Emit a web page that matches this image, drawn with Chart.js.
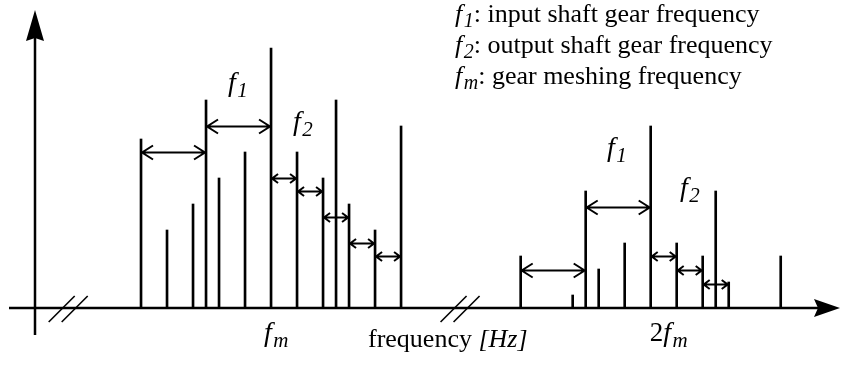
<!DOCTYPE html>
<html>
<head>
<meta charset="utf-8">
<script src="https://cdn.jsdelivr.net/npm/chart.js@4.4.0/dist/chart.umd.min.js"></script>
<style>
  html, body { margin: 0; padding: 0; background: #fff; }
  canvas { display: block; }
</style>
</head>
<body>
<canvas id="spectrum" width="841" height="369"></canvas>
<script>
'use strict';

// lines round the meshing frequency fm (schematic frequency units, fm = 100)
const group1Freq = [50, 60, 70, 75, 80, 90, 100, 110, 120, 125, 130, 140, 150];
const group1Amp  = [6.5, 3, 4, 8, 5, 6, 10, 6, 5, 8, 4, 3, 7];

// lines round 2fm (drawn after the axis break)
const group2Freq = [196, 216, 221, 226, 236, 246, 256, 266, 271, 276, 296];
const group2Amp  = [2, 0.5, 4.5, 1.5, 2.5, 7, 2.5, 2, 4.5, 1, 2];

// spacing arrows between lines: start, end and height
const arrowFrom  = [50, 75, 100, 110, 120, 130, 140, 196, 221, 246, 256, 266];
const arrowTo    = [75, 100, 110, 120, 130, 140, 150, 221, 246, 256, 266, 276];
const arrowLevel = [6, 7, 5, 4.5, 3.5, 2.5, 2, 1.45, 3.9, 2, 1.45, 0.92];

// x tick marks under the axis
const tickValues = [100, 246];
const tickLabels = ['', '2'];   // prefix before f_m

// where the axis is broken (//)
const axisBreaks = [22, 172.7];

const legendSubs  = ['1', '2', 'm'];
const legendTexts = [': input shaft gear frequency', ': output shaft gear frequency', ': gear meshing frequency'];

const serif = "'Liberation Serif', 'Times New Roman', serif";

function font(size, italic) {
    return (italic ? 'italic ' : '') + size + 'px ' + serif;
}

// draw text pieces one after the other, each with its own font
function drawRuns(ctx, runs, x, y) {
    for (let r of runs) {
        ctx.font = r.font;
        ctx.fillText(r.text, x, y + (r.dy || 0));
        x += ctx.measureText(r.text).width + (r.gap || 0);
    }
}

// italic f with a subscript
function fSym(sub, size) {
    return [
        {text: 'f', font: font(size, true), gap: 1.5},
        {text: sub, font: font(Math.round(size * 0.76), true), dy: Math.round(size * 0.2)}
    ];
}

function drawDimArrow(ctx, x1, x2, y) {
    let span = x2 - x1;
    let len = span > 40 ? 12 : 7;
    let half = span > 40 ? 7 : 4.5;
    ctx.beginPath();
    ctx.moveTo(x1 + 1, y);
    ctx.lineTo(x2 - 1, y);
    ctx.moveTo(x1 + len, y - half);
    ctx.lineTo(x1 + 1, y);
    ctx.lineTo(x1 + len, y + half);
    ctx.moveTo(x2 - len, y - half);
    ctx.lineTo(x2 - 1, y);
    ctx.lineTo(x2 - len, y + half);
    ctx.stroke();
}

const decorations = {
    id: 'decorations',
    afterDatasetsDraw(chart) {
        let ctx = chart.ctx;
        let xs = chart.scales.x;
        let ys = chart.scales.y;
        let area = chart.chartArea;
        let y0 = ys.getPixelForValue(0);
        let xAxisPos = area.left + 24;

        ctx.save();
        ctx.strokeStyle = '#000';
        ctx.fillStyle = '#000';
        ctx.lineJoin = 'miter';

        // horizontal axis with arrow
        ctx.lineWidth = 2.5;
        ctx.beginPath();
        ctx.moveTo(area.left - 2, y0);
        ctx.lineTo(area.right - 20, y0);
        ctx.stroke();
        ctx.beginPath();
        ctx.moveTo(area.right, y0);
        ctx.lineTo(area.right - 26, y0 - 9);
        ctx.lineTo(area.right - 22, y0);
        ctx.lineTo(area.right - 26, y0 + 9);
        ctx.closePath();
        ctx.fill();

        // vertical axis with arrow
        ctx.beginPath();
        ctx.moveTo(xAxisPos, area.bottom);
        ctx.lineTo(xAxisPos, area.top + 24);
        ctx.stroke();
        ctx.beginPath();
        ctx.moveTo(xAxisPos, area.top);
        ctx.lineTo(xAxisPos - 9, area.top + 31);
        ctx.lineTo(xAxisPos, area.top + 28);
        ctx.lineTo(xAxisPos + 9, area.top + 31);
        ctx.closePath();
        ctx.fill();

        // axis breaks
        ctx.lineWidth = 1.6;
        for (let b of axisBreaks) {
            let bx = xs.getPixelForValue(b);
            for (let off of [-6.5, 6.5]) {
                ctx.beginPath();
                ctx.moveTo(bx + off - 13, y0 + 14);
                ctx.lineTo(bx + off + 13, y0 - 12);
                ctx.stroke();
            }
        }

        // spacing arrows
        ctx.lineWidth = 2;
        for (let i = 0; i < arrowFrom.length; i++) {
            drawDimArrow(ctx,
                xs.getPixelForValue(arrowFrom[i]),
                xs.getPixelForValue(arrowTo[i]),
                Math.round(ys.getPixelForValue(arrowLevel[i])) + 0.5);
        }

        // f1 / f2 labels over the arrows
        ctx.textBaseline = 'alphabetic';
        drawRuns(ctx, fSym('1', 28), 228, 91);
        drawRuns(ctx, fSym('2', 28), 293, 130);
        drawRuns(ctx, fSym('1', 28), 607, 156);
        drawRuns(ctx, fSym('2', 28), 680, 196);

        // tick labels under the axis
        for (let i = 0; i < tickValues.length; i++) {
            let tx = xs.getPixelForValue(tickValues[i]) - (tickLabels[i] ? 1 : 7);
            let runs = [];
            if (tickLabels[i]) runs.push({text: tickLabels[i], font: font(27, false)});
            runs = runs.concat(fSym('m', 28));
            drawRuns(ctx, runs, tx, 341);
        }

        // axis title
        drawRuns(ctx, [
            {text: 'frequency ', font: font(26, false)},
            {text: '[Hz]', font: font(26, true)}
        ], 368, 347);

        // legend
        for (let i = 0; i < legendTexts.length; i++) {
            let ly = 22 + i * 31;
            drawRuns(ctx, fSym(legendSubs[i], 26).concat([{text: legendTexts[i], font: font(26, false)}]), 455, ly);
        }

        ctx.restore();
    }
};

let ctx = document.getElementById('spectrum').getContext('2d');
let spectrumChart = new Chart(ctx, {
    type: 'bar',
    data: {
        datasets: [{
            label: 'fm sidebands',
            data: group1Freq.map((f, i) => ({x: f, y: group1Amp[i]})),
            backgroundColor: '#000',
            barThickness: 2
        }, {
            label: '2fm sidebands',
            data: group2Freq.map((f, i) => ({x: f, y: group2Amp[i]})),
            backgroundColor: '#000',
            barThickness: 2
        }]
    },
    options: {
        responsive: false,
        animation: false,
        layout: {padding: {left: 11, right: 1, top: 10, bottom: 34}},
        plugins: {
            legend: {display: false},
            tooltip: {enabled: false}
        },
        datasets: {bar: {grouped: false}},
        scales: {
            x: {type: 'linear', display: false, offset: false, min: 0, max: 318.8},
            y: {display: false, min: -1.0385, max: 11.4615}
        }
    },
    plugins: [decorations]
});
</script>
</body>
</html>
